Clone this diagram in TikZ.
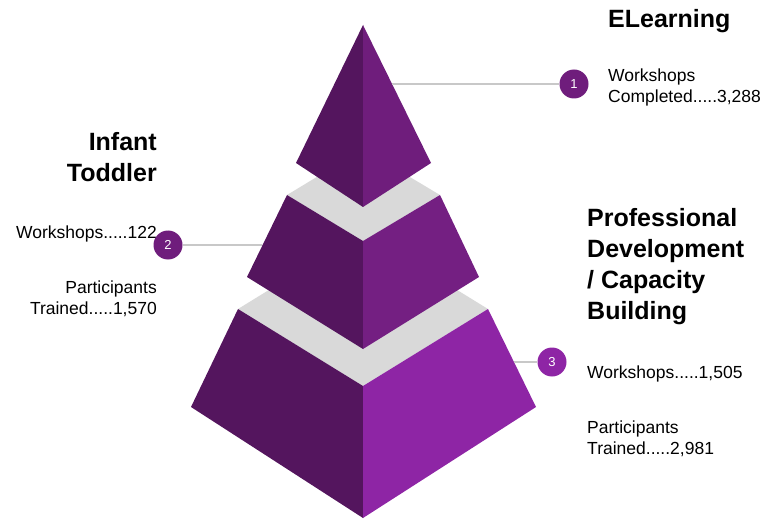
\documentclass[tikz,border=0pt]{standalone}
\usepackage{fontspec}
\setmainfont{Liberation Sans}

\begin{document}
\begin{tikzpicture}[x=1pt,y=-1pt,
  numnode/.style={circle,minimum size=29,inner sep=0,text=white,font=\fontsize{13}{13}\selectfont},
  head/.style={font=\fontsize{25}{31}\selectfont\bfseries,inner sep=0},
  info/.style={font=\fontsize{17.5}{21}\selectfont,inner sep=0},
  link/.style={draw=linegray,line width=1.5}]
\definecolor{darkplum}{HTML}{54155E}
\definecolor{midplum}{HTML}{6F1D7C}
\definecolor{plum}{HTML}{741F82}
\definecolor{brightplum}{HTML}{8E25A5}
\definecolor{bandgray}{HTML}{D9D9D9}
\definecolor{linegray}{HTML}{C8C8C8}
\useasboundingbox (0,0) rectangle (778,521);
% bottom tier
\fill[bandgray] (238,309) -- (363,232) -- (488,309) -- (363,386) -- cycle;
\fill[darkplum] (238,309) -- (363,386) -- (363,518) -- (191,407) -- cycle;
\fill[brightplum] (488,309) -- (363,386) -- (363,518) -- (536,407) -- cycle;
% middle tier
\fill[bandgray] (287,195) -- (363,149) -- (440,195) -- (363,241) -- cycle;
\fill[darkplum] (287,195) -- (363,241) -- (363,349) -- (247,277) -- cycle;
\fill[plum] (440,195) -- (363,241) -- (363,349) -- (479,277) -- cycle;
% top
\fill[darkplum] (363,25) -- (296,163) -- (363,207) -- cycle;
\fill[midplum] (363,25) -- (431,163) -- (363,207) -- cycle;
\coordinate (tip1) at (392,84);
\coordinate (tip2) at (262,245);
\coordinate (tip3) at (514,362);
% labels
\node[head,anchor=north west] (elearn) at (608,9) {ELearning};
\node[info,anchor=north west,align=left] (elearninfo) at (608,69) {Workshops\\Completed.....3,288};
\node[head,anchor=north east,align=right] (infant) at (157,132) {Infant\\Toddler};
\node[info,anchor=north east] (infantws) at (157,226) {Workshops.....122};
\node[info,anchor=north east,align=right] (infanttr) at (157,281) {Participants\\Trained.....1,570};
\node[head,anchor=north west,align=left] (profdev) at (587,208) {Professional\\Development\\/ Capacity\\Building};
\node[info,anchor=north west] (profws) at (587,366) {Workshops.....1,505};
\node[info,anchor=north west,align=left] (proftr) at (587,421) {Participants\\Trained.....2,981};
% numbered markers
\foreach \num/\x/\y/\crlr in {1/574/84/midplum,2/168/245/midplum,3/552/362/brightplum}
  {\node[numnode,fill=\crlr] (c\num) at (\x,\y) {\num};}
\draw[link] (tip1) -- (c1);
\draw[link] (tip2) -- (c2);
\draw[link] (tip3) -- (c3);
\end{tikzpicture}
\end{document}
